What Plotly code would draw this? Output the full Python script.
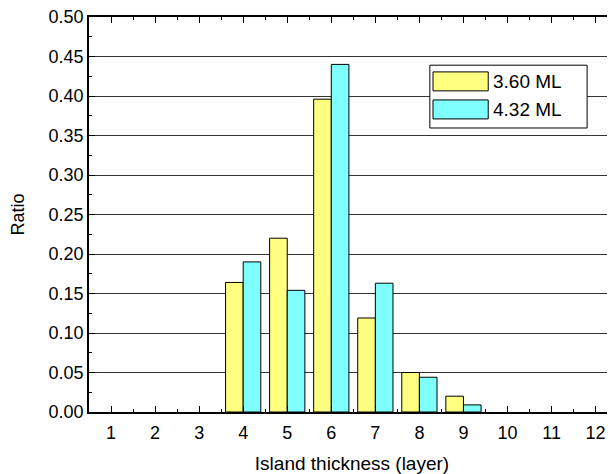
import plotly.graph_objects as go

layers = [1, 2, 3, 4, 5, 6, 7, 8, 9, 10, 11, 12]
ratio_360 = [None, None, None, 0.164, 0.220, 0.396, 0.119, 0.050, 0.020, None, None, None]
ratio_432 = [None, None, None, 0.190, 0.154, 0.440, 0.163, 0.044, 0.009, None, None, None]
series_names = ["3.60 ML", "4.32 ML"]
series_colors = ["#FFFF80", "#80FFFF"]
y_ticks = [0.00, 0.05, 0.10, 0.15, 0.20, 0.25, 0.30, 0.35, 0.40, 0.45, 0.50]

FONT = "Liberation Sans, Arial, sans-serif"

fig = go.Figure()
for name, vals, col in zip(series_names, [ratio_360, ratio_432], series_colors):
    fig.add_trace(go.Bar(
        x=layers, y=vals, name=name,
        marker=dict(color=col, line=dict(color="#000000", width=1)),
        showlegend=False,
    ))

# page body has an 8px margin, so the figure is sized/offset to compensate
fig.update_layout(
    width=607, height=466,
    margin=dict(l=81, r=0, t=9, b=62),
    plot_bgcolor="white", paper_bgcolor="white",
    barmode="group", bargap=0.2, bargroupgap=0,
    font=dict(family=FONT, size=18, color="#000000"),
)
fig.update_xaxes(
    range=[0.5, 12.44], tickmode="array", tickvals=layers,
    ticktext=[str(v) for v in layers],
    ticks="inside", ticklen=6, tickwidth=1, tickcolor="#000",
    minor=dict(ticks="inside", ticklen=3, dtick=0.5, tick0=0.5, tickcolor="#000", showgrid=False),
    showline=True, linecolor="#000", linewidth=1.5, mirror="ticks",
    showgrid=False, zeroline=False,
    ticklabelstandoff=4, ticklabeloverflow="allow",
    title=dict(text="Island thickness (layer)", standoff=14, font=dict(size=19)),
    tickfont=dict(size=18),
)
fig.update_yaxes(
    range=[0, 0.5], tickmode="array", tickvals=y_ticks,
    ticktext=[f"{v:.2f}" for v in y_ticks],
    ticks="inside", ticklen=6, tickwidth=1, tickcolor="#000",
    minor=dict(ticks="inside", ticklen=3, dtick=0.025, tick0=0, tickcolor="#000", showgrid=False),
    showline=True, linecolor="#000", linewidth=1.5,
    showgrid=True, gridcolor="#333333", gridwidth=1, zeroline=False,
    ticklabeloverflow="allow",
    title=dict(text="Ratio", standoff=22, font=dict(size=18)),
    tickfont=dict(size=18),
)

# custom legend box (large swatches like the original)
fig.add_shape(type="rect", xref="paper", yref="paper", x0=0.648, x1=0.947, y0=0.719, y1=0.878,
              line=dict(color="#000", width=1), fillcolor="white", layer="above")
sw_y = [(0.813, 0.861), (0.742, 0.790)]
for (y0, y1), col, name in zip(sw_y, series_colors, series_names):
    fig.add_shape(type="rect", xref="paper", yref="paper", x0=0.654, x1=0.759, y0=y0, y1=y1,
                  line=dict(color="#000", width=1), fillcolor=col, layer="above")
    fig.add_annotation(xref="paper", yref="paper", x=0.764, y=(y0 + y1) / 2, text=name,
                       showarrow=False, xanchor="left", yanchor="middle",
                       font=dict(family=FONT, size=19, color="#000"))

fig.write_html("out.html")
